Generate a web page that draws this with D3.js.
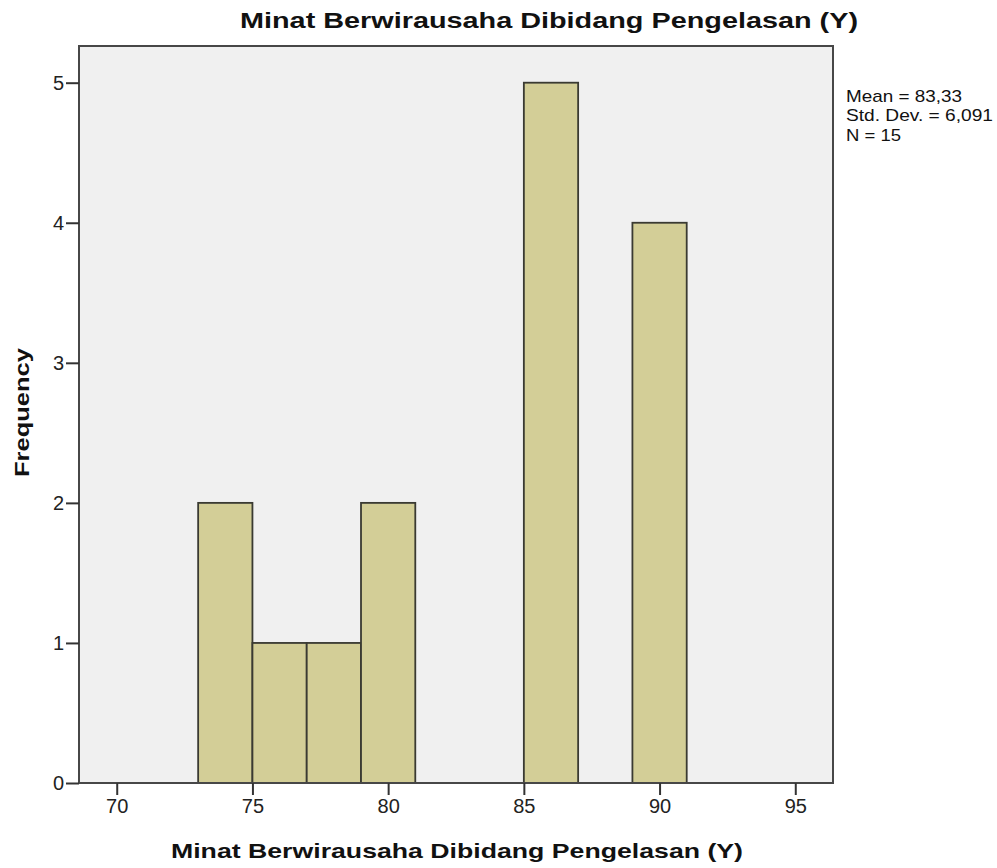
<!DOCTYPE html>
<html><head><meta charset="utf-8">
<script src="https://cdn.jsdelivr.net/npm/d3@7"></script>
<style>body{margin:0;background:#fff;}svg{display:block;font-family:Arial,"Liberation Sans",sans-serif;}</style>
</head><body><svg id="c" width="997" height="868"></svg>
<script>
const binStarts = [73, 75, 77, 79, 85, 89];
const binEnds   = [75, 77, 79, 81, 87, 91];
const counts    = [2, 1, 1, 2, 5, 4];
const xTicks = [70, 75, 80, 85, 90, 95];
const yTicks = [0, 1, 2, 3, 4, 5];
const statsLines = ["Mean = 83,33", "Std. Dev. = 6,091", "N = 15"];
const statsWidths = [116, 147, 55];
const title = "Minat Berwirausaha Dibidang Pengelasan (Y)";
const xLabel = "Minat Berwirausaha Dibidang Pengelasan (Y)";
const yLabel = "Frequency";

const svg = d3.select("#c");
const L = 79, R = 833, T = 46, B = 783;
const x = d3.scaleLinear().domain([68.61, 96.39]).range([L, R]);
const y = d3.scaleLinear().domain([0, 5.262]).range([B, T]);
const FF = "Arial, 'Liberation Sans', sans-serif";

svg.append("rect").attr("x", L).attr("y", T).attr("width", R - L).attr("height", B - T)
  .attr("fill", "#f0f0f0");

const data = counts.map((c, i) => ({s: binStarts[i], e: binEnds[i], c}));
svg.selectAll("rect.bar").data(data).join("rect").attr("class", "bar")
  .attr("x", d => x(d.s)).attr("width", d => x(d.e) - x(d.s))
  .attr("y", d => y(d.c)).attr("height", d => y(0) - y(d.c))
  .attr("fill", "#d3ce97").attr("stroke", "#3a3a32").attr("stroke-width", 1.8);

svg.append("rect").attr("x", L).attr("y", T).attr("width", R - L).attr("height", B - T)
  .attr("fill", "none").attr("stroke", "#474747").attr("stroke-width", 2);

const xa = svg.append("g").attr("transform", `translate(0,${B})`)
  .call(d3.axisBottom(x).tickValues(xTicks).tickSize(12).tickPadding(4).tickFormat(d3.format("d")));
xa.select(".domain").remove();
xa.selectAll("line").attr("stroke", "#333").attr("stroke-width", 2);
xa.selectAll("text").attr("font-size", 20).attr("fill", "#222").attr("font-family", FF);

const ya = svg.append("g").attr("transform", `translate(${L},0)`)
  .call(d3.axisLeft(y).tickValues(yTicks).tickSize(13).tickPadding(2).tickFormat(d3.format("d")));
ya.select(".domain").remove();
ya.selectAll("line").attr("stroke", "#333").attr("stroke-width", 2);
ya.selectAll("text").attr("font-size", 20).attr("fill", "#222").attr("font-family", FF);

svg.append("text").attr("x", 240).attr("y", 28)
  .attr("font-size", 22).attr("font-weight", "bold").attr("fill", "#111")
  .attr("textLength", 618).attr("lengthAdjust", "spacingAndGlyphs").text(title);
svg.append("text").attr("x", 171).attr("y", 858)
  .attr("font-size", 21).attr("font-weight", "bold").attr("fill", "#111")
  .attr("textLength", 572).attr("lengthAdjust", "spacingAndGlyphs").text(xLabel);
svg.append("text").attr("transform", "translate(29,477) rotate(-90)")
  .attr("font-size", 21).attr("font-weight", "bold").attr("fill", "#111")
  .attr("textLength", 129).attr("lengthAdjust", "spacingAndGlyphs").text(yLabel);

svg.selectAll("text.stat").data(statsLines).join("text").attr("class", "stat")
  .attr("x", 846).attr("y", (d, i) => 101.5 + i * 19.5)
  .attr("font-size", 17).attr("fill", "#111")
  .attr("textLength", (d, i) => statsWidths[i]).attr("lengthAdjust", "spacingAndGlyphs")
  .text(d => d);
</script></body></html>
